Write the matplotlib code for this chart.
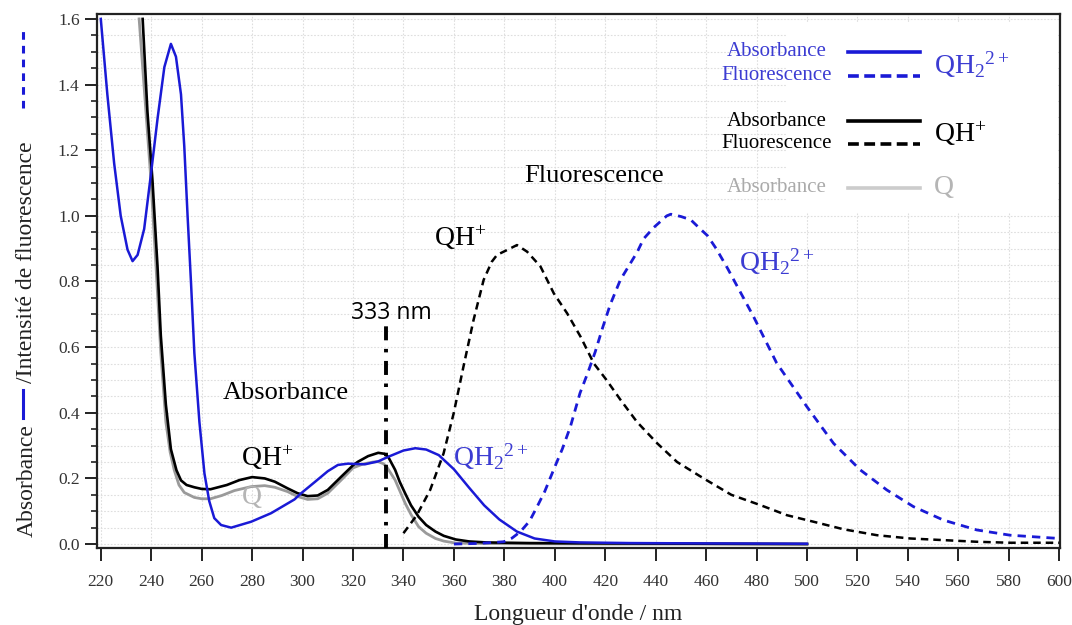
import matplotlib
matplotlib.use("Agg")
import matplotlib.pyplot as plt
from matplotlib.lines import Line2D
from matplotlib.patches import Rectangle
from matplotlib.ticker import MultipleLocator

# ---- data ----
# QH2 2+ absorbance (blue solid)
qh2_abs_nm = [220, 222.6, 225.3, 227.9, 230.6, 232.6, 234.6, 237.2, 239.9, 242.5, 245.2, 247.8,
              249.8, 251.8, 253.1, 254.4, 255.8, 257.1, 259.1, 261.1, 263.0, 265.0, 267.7, 271.7,
              279.6, 287.5, 296.8, 299.3, 305, 310, 314, 318, 324.7, 330, 334, 340, 344.7, 349,
              354, 360, 366, 372, 378, 385, 392, 400, 410, 430, 460, 500]
qh2_abs = [1.60, 1.37, 1.16, 1.00, 0.897, 0.862, 0.881, 0.96, 1.128, 1.296, 1.453, 1.524,
           1.485, 1.37, 1.212, 1.002, 0.792, 0.582, 0.372, 0.215, 0.131, 0.079, 0.058, 0.050,
           0.068, 0.094, 0.136, 0.154, 0.19, 0.222, 0.241, 0.245, 0.243, 0.252, 0.266, 0.285, 0.292, 0.288,
           0.271, 0.228, 0.172, 0.118, 0.075, 0.038, 0.017, 0.008, 0.005, 0.003, 0.002, 0.001]

# QH+ absorbance (black solid)
qh_abs_nm = [236.6, 238.5, 240.5, 242.5, 243.8, 245.8, 247.8, 250, 251.8, 254, 257.1, 260, 263.5,
             270, 275, 280, 285, 289, 294, 298, 302, 306, 310, 315.3, 320, 322, 326, 330, 332.5,
             334, 336.7, 338.5, 340.7, 343, 346, 349, 352.7, 356, 360.7, 366, 372.7, 390, 420, 460, 500]
qh_abs = [1.60, 1.317, 1.107, 0.845, 0.635, 0.425, 0.289, 0.225, 0.194, 0.18, 0.173, 0.168, 0.167,
          0.18, 0.195, 0.204, 0.2, 0.19, 0.17, 0.155, 0.146, 0.148, 0.165, 0.205, 0.24, 0.251, 0.268, 0.278, 0.275,
          0.265, 0.226, 0.19, 0.154, 0.118, 0.083, 0.058, 0.038, 0.025, 0.014, 0.008, 0.005, 0.003, 0.002, 0.001, 0.0]

# Q absorbance (grey solid)
q_abs_nm = [235.2, 237.9, 239.9, 241.9, 243.8, 245.8, 247.5, 249.1, 251, 253.1, 257.1, 260, 263.5,
            268, 273, 279.6, 285, 289, 294, 298, 302, 306, 310, 315.3, 320, 324, 328, 330, 332,
            333.3, 336.7, 340.7, 343, 346, 349, 352.7, 356, 360.7, 380, 420, 500]
q_abs = [1.60, 1.317, 1.107, 0.845, 0.582, 0.372, 0.28, 0.226, 0.18, 0.157, 0.142, 0.138, 0.138,
         0.148, 0.163, 0.175, 0.178, 0.173, 0.16, 0.145, 0.136, 0.138, 0.155, 0.195, 0.232, 0.244, 0.25, 0.251, 0.245,
         0.236, 0.195, 0.124, 0.09, 0.053, 0.033, 0.017, 0.009, 0.003, 0.001, 0.0, 0.0]

# QH+ fluorescence (black dashed)
qh_fl_nm = [340, 345.3, 350.6, 355.9, 359.9, 363.8, 367.8, 371.8, 375, 377.1, 381.1, 385, 389, 394.3,
            399.6, 404.9, 410.2, 415.5, 420.5, 426, 432.6, 440.6, 448.5, 459, 470, 481.4, 492, 502.6,
            514.5, 527.7, 540.9, 554.1, 567.3, 580.5, 600]
qh_fl = [0.033, 0.088, 0.165, 0.276, 0.398, 0.541, 0.683, 0.805, 0.86, 0.881, 0.896, 0.911, 0.891, 0.846,
         0.764, 0.703, 0.632, 0.55, 0.5, 0.44, 0.372, 0.307, 0.25, 0.2, 0.15, 0.119, 0.088, 0.068,
         0.045, 0.027, 0.017, 0.012, 0.007, 0.004, 0.004]

# QH2 2+ fluorescence (blue dashed)
qh2_fl_nm = [360, 370, 379.7, 383, 386.4, 390, 393, 396, 400, 403, 406.2, 410, 413, 416, 419, 422,
             426, 432.7, 435.2, 439.3, 444.4, 446, 450, 453.9, 457, 460.5, 464, 468.5, 478.8, 488,
             499.9, 510.5, 521.1, 531.6, 542.2, 554.1, 567.3, 580.5, 600]
qh2_fl = [0.0, 0.002, 0.007, 0.018, 0.038, 0.07, 0.114, 0.16, 0.235, 0.29, 0.358, 0.46, 0.52, 0.585, 0.66, 0.73,
          0.805, 0.89, 0.93, 0.965, 1.0, 1.005, 0.998, 0.988, 0.965, 0.94, 0.9, 0.84, 0.693, 0.551,
          0.419, 0.307, 0.226, 0.165, 0.114, 0.073, 0.043, 0.027, 0.017]

excitation_nm = 333
excitation_top = 0.665

BLUE = "#1a1ad6"
BLUE_TXT = "#3c3cd2"
GREY = "#9a9a9a"
SERIF = ["Liberation Serif", "DejaVu Serif"]

plt.rcParams["font.family"] = SERIF
plt.rcParams["mathtext.fontset"] = "custom"
plt.rcParams["mathtext.rm"] = "Liberation Serif"
plt.rcParams["mathtext.it"] = "Liberation Serif:italic"
plt.rcParams["mathtext.bf"] = "Liberation Serif:bold"

fig = plt.figure(figsize=(10.72, 6.25), dpi=100)
ax = fig.add_axes([97 / 1072, 77 / 625, 963 / 1072, 534 / 625])

ax.set_xlim(218.5, 600.3)
ax.set_ylim(-0.012, 1.615)

ax.xaxis.set_major_locator(MultipleLocator(20))
ax.yaxis.set_major_locator(MultipleLocator(0.2))
ax.yaxis.set_minor_locator(MultipleLocator(0.05))
ax.yaxis.set_major_formatter(plt.FuncFormatter(lambda v, p: f"{v:.1f}"))

ax.grid(True, which="both", axis="y", color="#dedede", lw=0.8, ls=(0, (1.5, 1.5)))
ax.grid(True, which="major", axis="x", color="#dedede", lw=0.8, ls=(0, (1.5, 1.5)))
ax.set_axisbelow(True)

ax.tick_params(axis="both", which="major", direction="out", length=9, width=1.4,
               labelsize=12.5, labelcolor="#333333", color="#222222")
ax.tick_params(axis="y", which="minor", direction="out", length=4.5, width=1.2, color="#222222")
ax.tick_params(axis="x", which="major", pad=10)
for s in ax.spines.values():
    s.set_linewidth(1.6)
    s.set_color("#222222")

# white box behind the key
ax.add_patch(Rectangle((0.715, 0.628), 0.283, 0.357, transform=ax.transAxes,
                       facecolor="white", edgecolor="none", zorder=1.5))

ax.plot(q_abs_nm, q_abs, color=GREY, lw=2.0, zorder=3)
ax.plot(qh_abs_nm, qh_abs, color="black", lw=1.9, zorder=3)
ax.plot(qh2_abs_nm, qh2_abs, color=BLUE, lw=1.8, zorder=3)
ax.plot(qh_fl_nm, qh_fl, color="black", lw=1.8, ls=(0, (3, 2)), zorder=3)
ax.plot(qh2_fl_nm, qh2_fl, color=BLUE, lw=2.0, ls=(0, (3, 2.2)), zorder=3)

ax.plot([excitation_nm, excitation_nm], [-0.012, excitation_top], color="black", lw=2.8,
        ls=(0, (3.6, 2.2, 0.9, 2.2)), zorder=4, clip_on=False)
ax.text(335.2, 0.704, f"{excitation_nm} nm", fontsize=16.5,
        family=["Open Sans", "DejaVu Sans"], ha="center", va="center")

# annotations
ax.text(293.2, 0.46, "Absorbance", fontsize=19, ha="center", va="center")
ax.text(415.4, 1.12, "Fluorescence", fontsize=19, ha="center", va="center")
ax.text(286.1, 0.262, "QH$^{+}$", fontsize=20, ha="center", va="center")
ax.text(280, 0.143, "Q", fontsize=20, ha="center", va="center", color="#b5b5b5")
ax.text(374.5, 0.265, "QH$_2$$^{2+}$", fontsize=20, ha="center", va="center", color=BLUE_TXT)
ax.text(362.6, 0.933, "QH$^{+}$", fontsize=20, ha="center", va="center")
ax.text(488, 0.86, "QH$_2$$^{2+}$", fontsize=20, ha="center", va="center", color=BLUE_TXT)

# key
T = ax.transAxes
key = [
    ("Absorbance", 0.929, BLUE_TXT, BLUE, "-"),
    ("Fluorescence", 0.884, BLUE_TXT, BLUE, (0, (3, 1.5))),
    ("Absorbance", 0.799, "black", "black", "-"),
    ("Fluorescence", 0.757, "black", "black", (0, (3, 1.5))),
    ("Absorbance", 0.675, "#aaaaaa", "#cccccc", "-"),
]
for label, yk, tc, lc, ls in key:
    ax.text(0.706, yk, label, transform=T, fontsize=15, color=tc, ha="center", va="center", zorder=5)
    ax.add_line(Line2D([0.78, 0.855], [yk, yk], transform=T, color=lc, lw=2.6, ls=ls, zorder=5))
ax.text(0.869, 0.905, "QH$_2$$^{2+}$", transform=T, fontsize=20, color=BLUE_TXT, ha="left", va="center", zorder=5)
ax.text(0.869, 0.776, "QH$^{+}$", transform=T, fontsize=20, color="black", ha="left", va="center", zorder=5)
ax.text(0.869, 0.675, "Q", transform=T, fontsize=20, color="#b5b5b5", ha="left", va="center", zorder=5)

ax.set_xlabel("Longueur d'onde / nm", fontsize=17, color="#222222", labelpad=10)

# composite y label
fig.text(27 / 1072, (625 - 537) / 625, "Absorbance", rotation=90, fontsize=17,
         ha="center", va="bottom", color="#222222")
fig.add_artist(Line2D([23 / 1072, 23 / 1072], [(625 - 418) / 625, (625 - 390) / 625],
                      transform=fig.transFigure, color=BLUE, lw=2.2))
fig.text(27 / 1072, (625 - 383) / 625, "/Intensité de fluorescence", rotation=90, fontsize=17,
         ha="center", va="bottom", color="#222222")
fig.add_artist(Line2D([23 / 1072, 23 / 1072], [(625 - 108) / 625, (625 - 30) / 625],
                      transform=fig.transFigure, color=BLUE, lw=2.2, ls=(0, (2.5, 2))))

fig.savefig("out.png", dpi=100)
